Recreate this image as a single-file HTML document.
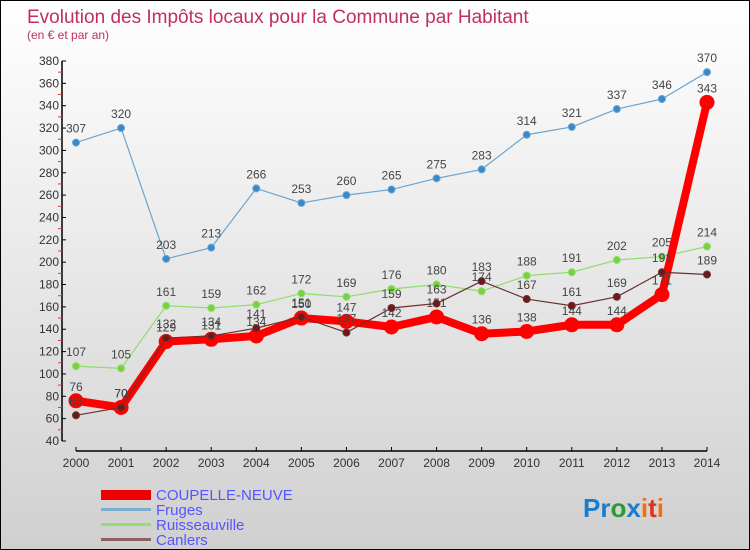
<!DOCTYPE html>
<html><head><meta charset="utf-8"><style>
body{margin:0}
#wrap{width:748px;height:548px;border:1px solid #000;background:linear-gradient(#fff,#d0d0d0);position:relative;overflow:hidden;font-family:"Liberation Sans",sans-serif}
</style></head><body>
<div id="wrap">
<svg id="svg" width="748" height="548" style="position:absolute;left:0;top:0">
<text x="26" y="22" font-size="19" fill="#c0305a">Evolution des Impôts locaux pour la Commune par Habitant</text>
<text x="26" y="38" font-size="12" fill="#c0305a">(en € et par an)</text>
<g id="g"></g>
<g>
<rect x="100" y="489" width="50" height="10" fill="#e00"/>
<text x="155" y="499" font-size="15" fill="#55f">COUPELLE-NEUVE</text>
<rect x="100" y="507" width="50" height="3" fill="#7aafd0"/>
<text x="155" y="514" font-size="15" fill="#55f">Fruges</text>
<rect x="100" y="522" width="50" height="3" fill="#90e070"/>
<text x="155" y="529" font-size="15" fill="#55f">Ruisseauville</text>
<rect x="100" y="537" width="50" height="3" fill="#906060"/>
<text x="155" y="544" font-size="15" fill="#55f">Canlers</text>
</g>
<text x="582" y="516" font-size="26" font-weight="bold"><tspan fill="#1a7ccc">Pr</tspan><tspan fill="#2a9a3a">o</tspan><tspan fill="#1a7ccc">x</tspan><tspan fill="#f07010">i</tspan><tspan fill="#e03020">t</tspan><tspan fill="#f07010">i</tspan></text>
</svg>
</div>
<script>
const years=["2000","2001","2002","2003","2004","2005","2006","2007","2008","2009","2010","2011","2012","2013","2014"];
const yTicks=[40,60,80,100,120,140,160,180,200,220,240,260,280,300,320,340,360,380];
const coupelle=[76,70,129,131,134,150,147,142,151,136,138,144,144,171,343];
const fruges=[307,320,203,213,266,253,260,265,275,283,314,321,337,346,370];
const ruisseauville=[107,105,161,159,162,172,169,176,180,174,188,191,202,205,214];
const canlers=[63,70,132,134,141,151,137,159,163,183,167,161,169,191,189];
const NS="http://www.w3.org/2000/svg";
const g=document.getElementById('g');
const xs=i=>75+i*(631/14);
const ys=v=>440-(v-40)*(380/340);
function mk(t,a,p){const e=document.createElementNS(NS,t);for(const k in a)e.setAttribute(k,a[k]);(p||g).appendChild(e);return e;}
// axes
let ax=mk('line',{x1:61,y1:ys(380),x2:61,y2:ys(40),stroke:'#000','stroke-width':1.5});


let xa=mk('line',{x1:75,y1:450,x2:706,y2:450,stroke:'#000','stroke-width':1.5});


yTicks.forEach((v,i)=>{
  mk('line',{x1:61,y1:ys(v),x2:65,y2:ys(v),stroke:'#000'});
  if(i<yTicks.length-1)mk('line',{x1:57,y1:ys(v+10),x2:61,y2:ys(v+10),stroke:'#e33'});
  const t=mk('text',{x:58,y:ys(v)+4,'font-size':12,fill:'#333','text-anchor':'end'});t.textContent=v;
  
  
});
years.forEach((y,i)=>{
  mk('line',{x1:xs(i),y1:446,x2:xs(i),y2:450,stroke:'#000'});
  const t=mk('text',{x:xs(i),y:466,'font-size':12,fill:'#333','text-anchor':'middle'});t.textContent=y;
  
  
});
function series(data,name,color,w,r,dot){
  const grp=mk('g',{});
  
  
  const pl=mk('polyline',{points:data.map((v,i)=>xs(i)+','+ys(v)).join(' '),fill:'none',stroke:color,'stroke-width':w,'stroke-linejoin':'round'},grp);
  
  
  data.forEach((v,i)=>{
    const c=mk('circle',{cx:xs(i),cy:ys(v),r:r,fill:dot,stroke:color,'stroke-width':1},grp);
    
    
    const t=mk('text',{x:xs(i),y:ys(v)-10,'font-size':12,fill:'#444','text-anchor':'middle'},grp);t.textContent=v;
    
    
  });
}
series(fruges,'fruges','#6aa6d0',1.2,3.5,'#3a88c8');
series(ruisseauville,'ruisseauville','#8ede6a',1.2,3.5,'#7ad040');
series(coupelle,'coupelle','#f00',8,7,'#f00');
series(canlers,'canlers','#703030',1.2,3.5,'#6a1a1a');
</script>
</body></html>
